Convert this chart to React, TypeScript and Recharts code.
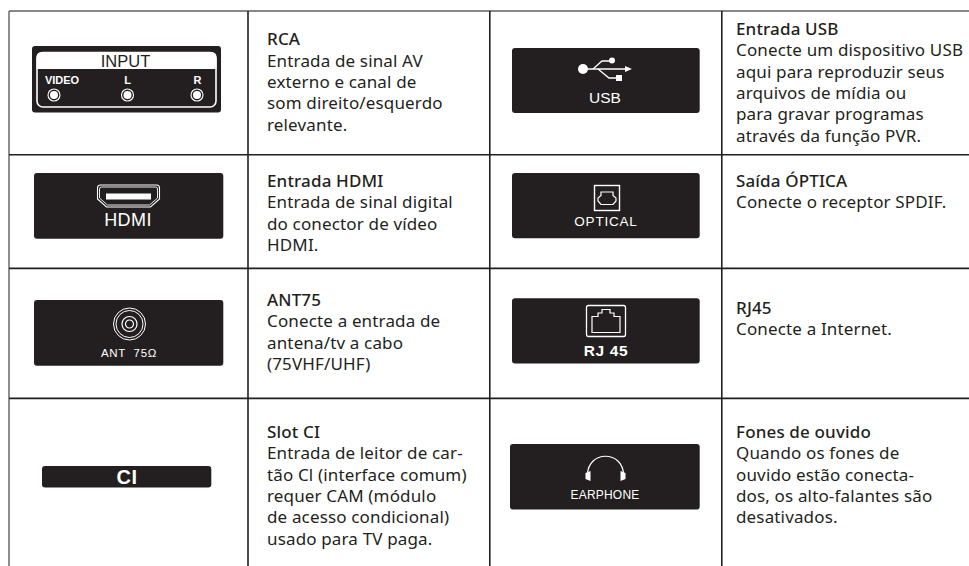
import React from "react";
import { ComposedChart, XAxis, YAxis, Scatter, ReferenceLine, ReferenceArea } from "recharts";

// ---------- content ----------
const rcaText = ["RCA", "Entrada de sinal AV", "externo e canal de", "som direito/esquerdo", "relevante."];
const hdmiText = ["Entrada HDMI", "Entrada de sinal digital", "do conector de vídeo", "HDMI."];
const antText = ["ANT75", "Conecte a entrada de", "antena/tv a cabo", "(75VHF/UHF)"];
const ciText = ["Slot CI", "Entrada de leitor de car-", "tão Cl (interface comum)", "requer CAM (módulo", "de acesso condicional)", "usado para TV paga."];
const usbText = ["Entrada USB", "Conecte um dispositivo USB", "aqui para reproduzir seus", "arquivos de mídia ou", "para gravar programas", "através da função PVR."];
const opticalText = ["Saída ÓPTICA", "Conecte o receptor SPDIF."];
const rjText = ["RJ45", "Conecte a Internet."];
const earText = ["Fones de ouvido", "Quando os fones de", "ouvido estão conecta-", "dos, os alto-falantes são", "desativados."];

const badgeLabels = ["HDMI", "ANT  75Ω", "CI", "USB", "OPTICAL", "RJ 45", "EARPHONE"];
const rcaLabels = ["VIDEO", "L", "R"];

// ---------- layout ----------
const W = 969;
const H = 566;
const INK = "#231f20";
const BODY_FONT = "'Noto Sans', sans-serif";
const BADGE_FONT = "'Liberation Sans', Arial, sans-serif";
const LINE_H = 21.3;

const verticalRules = [248, 489.8, 721.8];
const horizontalRules = [154.7, 268.4, 398.4];

const textBlocks = [
  { lines: rcaText, x: 267, y: 45.3 },
  { lines: hdmiText, x: 267, y: 187 },
  { lines: antText, x: 267, y: 306 },
  { lines: ciText, x: 267, y: 438 },
  { lines: usbText, x: 736, y: 35 },
  { lines: opticalText, x: 736, y: 187 },
  { lines: rjText, x: 736, y: 313.5 },
  { lines: earText, x: 736, y: 438 },
];

const textPoints = textBlocks.flatMap((b) =>
  b.lines.map((line, i) => ({ x: b.x, y: b.y + i * LINE_H, text: line, head: i === 0 }))
);

const badges = [
  { x1: 32, x2: 221, y1: 46, y2: 112.5 },
  { x1: 34, x2: 223.3, y1: 173, y2: 238.7 },
  { x1: 34, x2: 223.3, y1: 300, y2: 365.7 },
  { x1: 42, x2: 211.3, y1: 466, y2: 487.5 },
  { x1: 512, x2: 699.7, y1: 48, y2: 113 },
  { x1: 512, x2: 699.7, y1: 173, y2: 238.3 },
  { x1: 512, x2: 699.7, y1: 298.3, y2: 363.5 },
  { x1: 510, x2: 699.7, y1: 444, y2: 509.5 },
];

const badgeTextPoints = [
  { x: 128, y: 226, text: badgeLabels[0], size: 18, weight: 400, ls: 0.4 },
  { x: 129, y: 356.7, text: badgeLabels[1], size: 11.5, weight: 400, ls: 0.7 },
  { x: 127, y: 483.5, text: badgeLabels[2], size: 20, weight: 700, ls: 0.5 },
  { x: 605, y: 103, text: badgeLabels[3], size: 15.5, weight: 400, ls: 0 },
  { x: 606, y: 226, text: badgeLabels[4], size: 13.5, weight: 400, ls: 0.8 },
  { x: 606, y: 356, text: badgeLabels[5], size: 15.5, weight: 700, ls: 0.6 },
  { x: 605, y: 499, text: badgeLabels[6], size: 12, weight: 400, ls: 0.2 },
  { x: 62, y: 83.5, text: rcaLabels[0], size: 11, weight: 700, ls: 0 },
  { x: 127.5, y: 83.5, text: rcaLabels[1], size: 11, weight: 700, ls: 0 },
  { x: 197.5, y: 83.5, text: rcaLabels[2], size: 11, weight: 700, ls: 0 },
];

const iconPoints = [
  { x: 126.5, y: 79, icon: "rca" },
  { x: 128.5, y: 196, icon: "hdmi" },
  { x: 129.5, y: 324, icon: "ant" },
  { x: 606, y: 69, icon: "usb" },
  { x: 607, y: 198, icon: "optical" },
  { x: 606, y: 321, icon: "rj" },
  { x: 605.5, y: 470, icon: "ear" },
];

// ---------- custom marks ----------
const BodyText = (p: any) => (
  <text
    x={p.cx}
    y={p.cy}
    fontFamily={BODY_FONT}
    fontSize={17}
    letterSpacing={0.15}
    fontWeight={p.payload.head ? 500 : 400}
    fill={INK}
  >
    {p.payload.text}
  </text>
);

const BadgeText = (p: any) => (
  <text
    x={p.cx}
    y={p.cy}
    textAnchor="middle"
    fontFamily={BADGE_FONT}
    fontSize={p.payload.size}
    fontWeight={p.payload.weight}
    letterSpacing={p.payload.ls}
    fill="#fff"
    style={{ whiteSpace: "pre" }}
  >
    {p.payload.text}
  </text>
);

const Icon = (p: any) => {
  const { cx, cy } = p;
  const t = `translate(${cx} ${cy})`;
  const s = { fill: "none", stroke: "#fff" };
  switch (p.payload.icon) {
    case "rca":
      return (
        <g transform={t}>
          <rect x={-89.5} y={-26.5} width={179} height={54.5} rx={6} {...s} strokeWidth={1.6} />
          <path d="M-90 -10 V-22 Q-90 -27 -84 -27 H84 Q90 -27 90 -22 V-10 Z" fill="#fff" />
          <text x={-1} y={-12} textAnchor="middle" fontFamily={BADGE_FONT} fontSize={16.5} fill={INK}>INPUT</text>
          {[-72.5, 1, 70.5].map((dx) => (
            <g key={dx}>
              <circle cx={dx} cy={16} r={6} fill="none" stroke="#fff" strokeWidth={1.1} />
              <circle cx={dx} cy={16} r={4} fill="#fff" />
            </g>
          ))}
        </g>
      );
    case "hdmi":
      return (
        <g transform={t}>
          <path d="M-31 -8 Q-31 -11 -28 -11 H28 Q31 -11 31 -8 V3 L22 11 H-22 L-31 3 Z" {...s} strokeWidth={1.1} />
          <path d="M-29 -7 Q-29 -9 -27 -9 H27 Q29 -9 29 -7 V2 L21 9 H-21 L-29 2 Z" {...s} strokeWidth={0.9} />
          <rect x={-22.5} y={-2.5} width={45} height={6} fill="#fff" />
        </g>
      );
    case "ant":
      return (
        <g transform={t}>
          <circle r={16} {...s} strokeWidth={1} />
          <circle r={13.5} {...s} strokeWidth={1} />
          <circle r={7.5} {...s} strokeWidth={1.2} />
          <circle r={4} {...s} strokeWidth={1.2} />
        </g>
      );
    case "usb":
      return (
        <g transform={t}>
          <circle cx={-23} cy={0} r={5} fill="#fff" />
          <path d="M-23 0 H21" {...s} strokeWidth={1.3} />
          <path d="M26 0 L19 -3 V3 Z" fill="#fff" />
          <path d="M-13 0 L-4 -8 H5" {...s} strokeWidth={1.3} />
          <circle cx={6} cy={-8.5} r={3} fill="#fff" />
          <path d="M-8 0 L3 9 H10" {...s} strokeWidth={1.3} />
          <rect x={10} y={6} width={6} height={6} fill="#fff" />
        </g>
      );
    case "optical":
      return (
        <g transform={t}>
          <rect x={-12.5} y={-12.5} width={25} height={25} {...s} strokeWidth={1.4} />
          <path d="M-6 -6 H6 V-2.5 L9 0 V3 L6 6.5 H-6 L-9 3 V0 L-6 -2.5 Z" {...s} strokeWidth={1.2} />
        </g>
      );
    case "rj":
      return (
        <g transform={t}>
          <rect x={-19.5} y={-15.5} width={39} height={31} rx={2} {...s} strokeWidth={1.3} />
          <path d="M-14 11.5 H14 V-4.5 H8 V-8 H4 V-11.5 H-4 V-8 H-8 V-4.5 H-14 Z" {...s} strokeWidth={1.2} />
        </g>
      );
    default:
      return (
        <g transform={t}>
          <path d="M-18 5 C-18 -20 18 -20 18 5" {...s} strokeWidth={1.2} />
          <path d="M-20 3 L-15 1 V11 L-20 9 Z" fill="#fff" />
          <path d="M20 3 L15 1 V11 L20 9 Z" fill="#fff" />
        </g>
      );
  }
};

export default function App() {
  return (
    <div style={{ position: "absolute", left: 0, top: 0, width: W, height: H, background: "#fff" }}>
      <ComposedChart width={W} height={H} margin={{ top: 0, right: 0, bottom: 0, left: 0 }}>
        <XAxis type="number" dataKey="x" domain={[0, W]} hide allowDataOverflow />
        <YAxis type="number" dataKey="y" domain={[0, H]} reversed hide allowDataOverflow />

        <ReferenceLine segment={[{ x: 9, y: 11 }, { x: W, y: 11 }]} stroke="#5f5f5f" strokeWidth={1.4} />
        <ReferenceLine segment={[{ x: 9, y: 11 }, { x: 9, y: H }]} stroke="#5f5f5f" strokeWidth={1.4} />
        {verticalRules.map((x) => (
          <ReferenceLine key={x} segment={[{ x, y: 11 }, { x, y: H }]} stroke={INK} strokeWidth={1.6} />
        ))}
        {horizontalRules.map((y) => (
          <ReferenceLine key={y} segment={[{ x: 9, y }, { x: W, y }]} stroke={INK} strokeWidth={1.6} />
        ))}
        {badges.map((b) => (
          <ReferenceArea key={`${b.x1}-${b.y1}`} {...b} fill={INK} fillOpacity={1} stroke="none" radius={3} />
        ))}

        <Scatter data={iconPoints} shape={Icon} isAnimationActive={false} />
        <Scatter data={badgeTextPoints} shape={BadgeText} isAnimationActive={false} />
        <Scatter data={textPoints} shape={BodyText} isAnimationActive={false} />
      </ComposedChart>
    </div>
  );
}
